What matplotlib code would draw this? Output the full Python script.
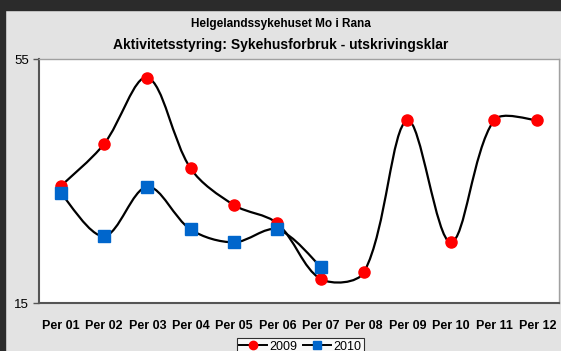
import matplotlib
matplotlib.use("Agg")
import matplotlib.pyplot as plt
from matplotlib.path import Path
from matplotlib.patches import PathPatch, Rectangle
from matplotlib.lines import Line2D
import numpy as np

plt.rcParams['font.family'] = ['Liberation Sans', 'DejaVu Sans']

periods = ["Per 01", "Per 02", "Per 03", "Per 04", "Per 05", "Per 06",
           "Per 07", "Per 08", "Per 09", "Per 10", "Per 11", "Per 12"]
v2009 = [34.2, 41.1, 52.0, 37.1, 31.1, 28.1, 19.0, 20.1, 45.0, 25.0, 45.0, 45.0]
v2010 = [33.1, 26.0, 34.1, 27.1, 25.0, 27.1, 21.0]


def smooth_path(ax, xs, ys):
    """Excel-like smoothed line as cubic bezier path (control points in screen space)"""
    pts = ax.transData.transform(np.column_stack([xs, ys]))
    n = len(pts)
    verts = [pts[0]]
    codes = [Path.MOVETO]
    for i in range(n - 1):
        p0 = pts[i - 1] if i > 0 else pts[i]
        p1 = pts[i]
        p2 = pts[i + 1]
        p3 = pts[i + 2] if i + 2 < n else pts[i + 1]
        d0 = np.hypot(*(p1 - p0))
        d1 = np.hypot(*(p2 - p1))
        d2 = np.hypot(*(p3 - p2))
        f1 = d1 / (d0 + d1) / 3 if d0 > 0 else 1 / 6
        f2 = d1 / (d1 + d2) / 3 if d2 > 0 else 1 / 6
        c1 = p1 + (p2 - p0) * f1
        c2 = p2 - (p3 - p1) * f2
        verts += [c1, c2, p2]
        codes += [Path.CURVE4] * 3
    verts = ax.transData.inverted().transform(np.array(verts))
    return Path(verts, codes)


fig = plt.figure(figsize=(5.61, 3.51), dpi=100)
fig.patch.set_facecolor('#e3e3e3')
# dark window frame at top / left
fig.patches.append(Rectangle((0, 1 - 10 / 351), 1, 10 / 351, transform=fig.transFigure,
                             color='#2b2b2b', zorder=0))
fig.patches.append(Rectangle((0, 0), 5 / 561, 1, transform=fig.transFigure,
                             color='#2b2b2b', zorder=0))

ax = fig.add_axes([39 / 561, (351 - 303.3) / 351, 520 / 561, 244 / 351])
ax.set_facecolor('white')
ax.set_xlim(-0.5, 11.5)
ax.set_ylim(15, 55)

x = np.arange(len(periods))
for vals in (v2009, v2010):
    xs = x[:len(vals)]
    ax.add_patch(PathPatch(smooth_path(ax, xs, vals), facecolor='none',
                           edgecolor='black', lw=1.6, zorder=2))

ax.plot(x[:len(v2009)], v2009, 'o', color='#ff0000', ms=8, zorder=3)
ax.plot(x[:len(v2010)], v2010, 's', color='#0066cc', ms=8, zorder=4)

ax.set_xticks(x)
ax.set_xticklabels(periods, fontsize=9, fontweight='bold')
ax.set_yticks([15, 55])
ax.tick_params(axis='x', length=0, pad=12)
ax.tick_params(axis='y', length=4, width=1, labelsize=9.5, color='#555555', pad=3)
for s in ('left', 'bottom'):
    ax.spines[s].set_color('#555555')
    ax.spines[s].set_linewidth(1.5)
for s in ('top', 'right'):
    ax.spines[s].set_color('#a0a0a0')
    ax.spines[s].set_linewidth(1)

fig.text(0.5, 1 - 24 / 351, "Helgelandssykehuset Mo i Rana", ha='center', va='center',
         fontsize=8.5, fontweight='bold')
fig.text(0.5, 1 - 45 / 351, "Aktivitetsstyring: Sykehusforbruk - utskrivingsklar",
         ha='center', va='center', fontsize=10, fontweight='bold')

handles = [Line2D([], [], color='black', marker='o', mfc='#ff0000', mec='#ff0000', ms=6, lw=1.4),
           Line2D([], [], color='black', marker='s', mfc='#0066cc', mec='#0066cc', ms=6, lw=1.4)]
leg = fig.legend(handles, ["2009", "2010"], loc='upper center', bbox_to_anchor=(0.535, 1 - 332 / 351),
                 ncol=2, fontsize=9, frameon=True, fancybox=False, borderpad=0.2,
                 handlelength=2.2, columnspacing=0.5, handletextpad=0.2)
leg.get_frame().set_edgecolor('black')
leg.get_frame().set_linewidth(0.8)

fig.savefig("out.png", dpi=100, facecolor=fig.get_facecolor())
